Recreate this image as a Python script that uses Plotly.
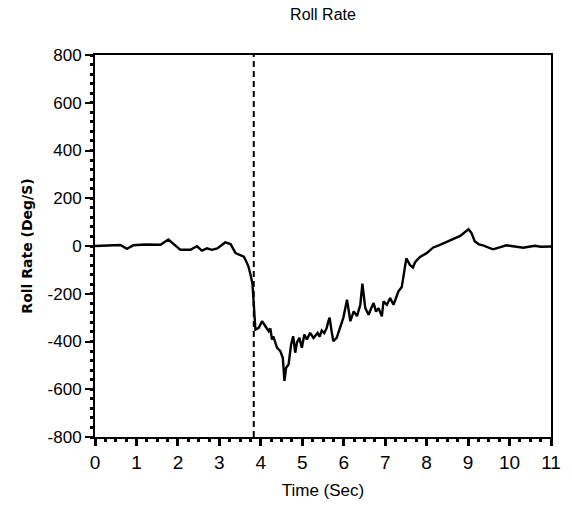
import plotly.graph_objects as go

# Roll rate time history (seconds, deg/s)
time_s = [0.00, 0.30, 0.61, 0.77, 0.93, 1.20, 1.58, 1.77, 1.90, 2.06, 2.30, 2.46, 2.58,
          2.70, 2.82, 2.95, 3.14, 3.27, 3.39, 3.51, 3.59, 3.63, 3.70, 3.75, 3.78,
          3.80, 3.81, 3.84, 3.87, 3.95, 4.03, 4.11, 4.19, 4.23, 4.27, 4.30, 4.39, 4.47,
          4.53, 4.57, 4.61, 4.67, 4.73, 4.78, 4.83, 4.87, 4.93, 4.99, 5.05, 5.11,
          5.19, 5.27, 5.37, 5.42, 5.47, 5.53, 5.59, 5.63, 5.66, 5.71, 5.75, 5.83, 5.91, 5.99,
          6.08, 6.16, 6.24, 6.32, 6.40, 6.45, 6.52, 6.60, 6.66, 6.72, 6.78, 6.84, 6.92, 6.96,
          7.04, 7.12, 7.20, 7.32, 7.40, 7.51, 7.60, 7.67, 7.72, 7.84, 8.00, 8.16,
          8.28, 8.42, 8.57, 8.70, 8.81, 9.01, 9.08, 9.16, 9.26, 9.36, 9.60, 9.78, 9.92, 10.00,
          10.20, 10.33, 10.50, 10.61, 10.75, 10.89, 11.00]
roll_rate = [0, 2, 4, -12, 3, 6, 5, 27, 8, -16, -16, -1, -19,
             -10, -16, -10, 15, 8, -30, -38, -45, -58, -85, -118, -140,
             -160, -190, -274, -350, -343, -315, -336, -357, -345, -392, -378, -426, -440,
             -468, -565, -510, -496, -413, -378, -447, -405, -385, -426, -371, -392,
             -364, -385, -364, -380, -354, -365, -343, -315, -300, -360, -399, -385, -343, -301,
             -225, -315, -274, -294, -246, -158, -260, -288, -262, -239, -275, -260, -295, -232,
             -246, -218, -246, -190, -172, -52, -80, -90, -68, -46, -30, -6,
             2, 12, 22, 32, 42, 70, 55, 20, 7, 3, -14, -5, 3, 1,
             -3, -7, -2, 1, -3, -4, -2]

event_time = 3.83

x_ticks = list(range(0, 12))
x_tick_labels = [str(v) for v in x_ticks]
y_ticks = [-800, -600, -400, -200, 0, 200, 400, 600, 800]
y_tick_labels = ["-800", "-600", "-400", "-200", "0", "200", "400", "600", "800"]

FONT = "Liberation Sans Narrow, Liberation Sans, Arial, sans-serif"

fig = go.Figure()
fig.add_trace(go.Scatter(
    x=time_s, y=roll_rate, mode="lines",
    line=dict(color="black", width=2.4),
    showlegend=False, hoverinfo="skip",
))
fig.add_trace(go.Scatter(
    x=[event_time, event_time], y=[-800, 800], mode="lines",
    line=dict(color="black", width=2, dash="6px,4px"),
    showlegend=False, hoverinfo="skip",
))

fig.update_layout(
    width=572, height=510,
    margin=dict(l=95, r=21, t=55, b=73),
    paper_bgcolor="white", plot_bgcolor="white",
    font=dict(family=FONT, color="black"),
    title=dict(text="Roll Rate", x=0.5, xref="paper", xanchor="center",
               y=1 - 14 / 510, yref="container", yanchor="middle",
               font=dict(size=16, family=FONT)),
)
fig.update_xaxes(
    range=[0, 11], tickvals=x_ticks, ticktext=x_tick_labels,
    showgrid=False, zeroline=False,
    showline=True, linecolor="black", linewidth=2, mirror=True,
    ticks="outside", ticklen=7, tickwidth=2.5, tickcolor="black",
    minor=dict(dtick=0.25, ticks="outside", ticklen=3, tickwidth=2.5, tickcolor="black"),
    tickfont=dict(size=19, family=FONT),
    title=dict(text="Time (Sec)", font=dict(size=17, family=FONT), standoff=12),
)
fig.update_yaxes(
    range=[-800, 800], tickvals=y_ticks, ticktext=y_tick_labels,
    showgrid=False, zeroline=False,
    showline=True, linecolor="black", linewidth=2, mirror=True,
    ticks="outside", ticklen=8, tickwidth=2, tickcolor="black",
    minor=dict(dtick=40, ticks="outside", ticklen=3, tickwidth=2.5, tickcolor="black"),
    tickfont=dict(size=17, family=FONT),
    title=dict(text="<b>Roll Rate (Deg/S)</b>", font=dict(size=14, family="DejaVu Sans, sans-serif"), standoff=12),
)

fig.write_html("out.html")
